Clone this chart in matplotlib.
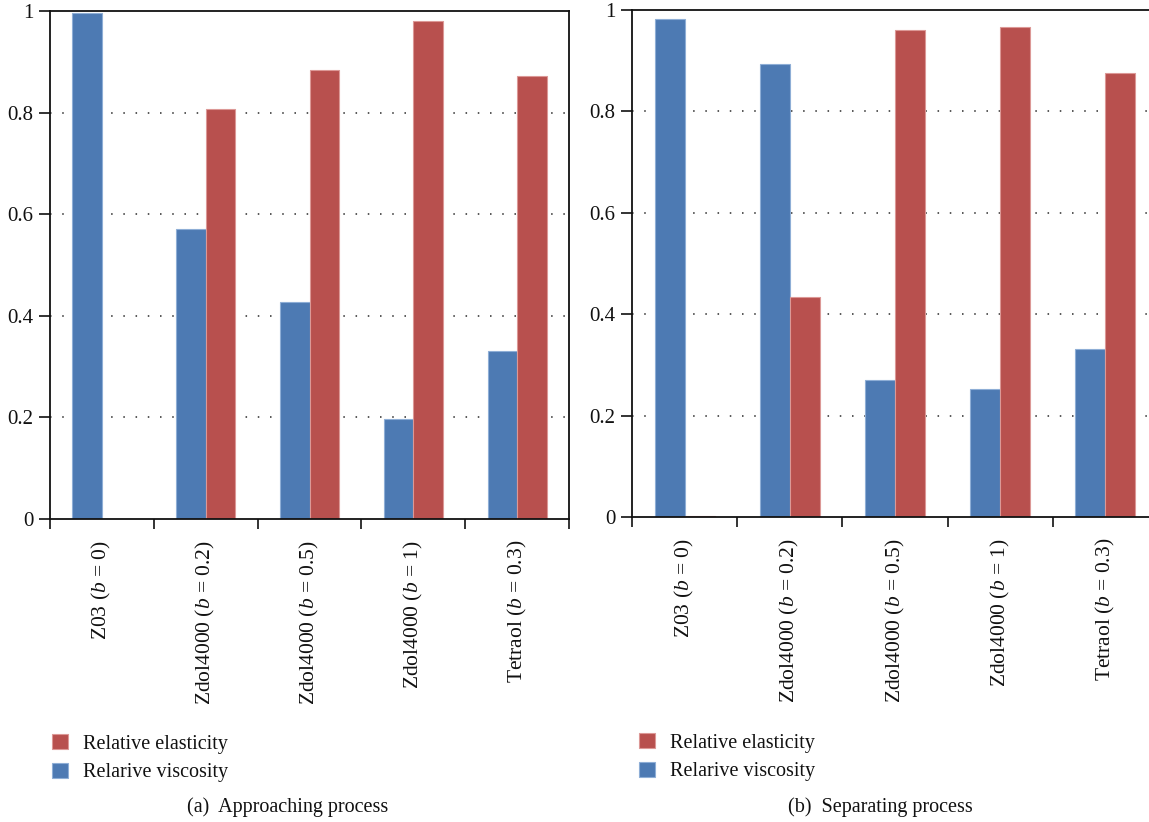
import matplotlib
matplotlib.use("Agg")
import matplotlib.pyplot as plt
from matplotlib.ticker import FixedLocator, FuncFormatter
import numpy as np

# ---- data ----
categories = [
    "Z03 ($b$ = 0)",
    "Zdol4000 ($b$ = 0.2)",
    "Zdol4000 ($b$ = 0.5)",
    "Zdol4000 ($b$ = 1)",
    "Tetraol ($b$ = 0.3)",
]
approach_viscosity = [0.997, 0.570, 0.428, 0.197, 0.331]
approach_elasticity = [0.0, 0.808, 0.883, 0.981, 0.873]
separate_viscosity = [0.982, 0.894, 0.271, 0.253, 0.331]
separate_elasticity = [0.002, 0.433, 0.961, 0.966, 0.876]
y_ticks = [0, 0.2, 0.4, 0.6, 0.8, 1.0]
series_names = ["Relative elasticity", "Relarive viscosity"]
captions = ["(a)  Approaching process", "(b)  Separating process"]

BLUE = "#4d7ab3"
RED = "#b8504e"
BLUE_EDGE = "#8eaed6"
RED_EDGE = "#dc9896"
INK = "#111111"

plt.rcParams["font.family"] = "Liberation Serif"
plt.rcParams["mathtext.fontset"] = "custom"
plt.rcParams["mathtext.rm"] = "Liberation Serif"
plt.rcParams["mathtext.it"] = "Liberation Serif:italic"

W, H = 1149, 822
fig = plt.figure(figsize=(W / 100, H / 100), dpi=100)


def px_axes(x0, x1, y_top, y_bottom):
    return fig.add_axes([x0 / W, 1 - y_bottom / H, (x1 - x0) / W, (y_bottom - y_top) / H])


def draw_panel(ax, viscosity, elasticity):
    x = np.arange(len(categories))
    w = 0.285
    ax.set_axisbelow(True)
    bv = ax.bar(x - w / 2, viscosity, width=w, color=BLUE, edgecolor=BLUE_EDGE, linewidth=0.8, zorder=2)
    be = ax.bar(x + w / 2, elasticity, width=w, color=RED, edgecolor=RED_EDGE, linewidth=0.8, zorder=2)
    ax.set_xlim(-0.5, len(categories) - 0.5)
    ax.set_ylim(0, 1)

    ax.yaxis.set_major_locator(FixedLocator(y_ticks))
    ax.yaxis.set_major_formatter(FuncFormatter(lambda v, p: "%g" % v))
    ax.tick_params(axis="y", direction="out", length=8, width=1.2, pad=4, labelsize=15, colors=INK)

    ax.set_xticks(x)
    ax.set_xticklabels(categories, rotation=90, va="top", ha="center")
    ax.xaxis.set_minor_locator(FixedLocator(np.arange(-0.5, len(categories), 1.0)))
    ax.tick_params(axis="x", which="major", length=0, pad=15, labelsize=15.5, labelcolor=INK)
    ax.tick_params(axis="x", which="minor", direction="out", length=7, width=1.2, color=INK)

    for gy in y_ticks[1:-1]:
        ax.axhline(gy, color="#2a2a2a", linewidth=1.1, linestyle=(0, (1, 7)), zorder=1)

    for s in ax.spines.values():
        s.set_linewidth(1.3)
        s.set_color(INK)
    return be, bv


ax_a = px_axes(50, 569, 11, 519)
be_a, bv_a = draw_panel(ax_a, approach_viscosity, approach_elasticity)

ax_b = px_axes(632, 1158, 10, 517)
be_b, bv_b = draw_panel(ax_b, separate_viscosity, separate_elasticity)

legend_kw = dict(loc="upper left", frameon=False, fontsize=14.5, borderpad=0, borderaxespad=0,
                 handlelength=0.8, handleheight=0.8, handletextpad=0.72, labelspacing=0.45,
                 labelcolor=INK)
fig.legend([be_a, bv_a], series_names, bbox_to_anchor=(52 / W, 1 - 734 / H), **legend_kw)
fig.legend([be_b, bv_b], series_names, bbox_to_anchor=(639 / W, 1 - 733 / H), **legend_kw)

fig.text(288 / W, 1 - 812 / H, captions[0], ha="center", va="baseline", fontsize=14.5, color=INK)
fig.text(880 / W, 1 - 812 / H, captions[1], ha="center", va="baseline", fontsize=14.5, color=INK)

fig.savefig("out.png", dpi=100)
